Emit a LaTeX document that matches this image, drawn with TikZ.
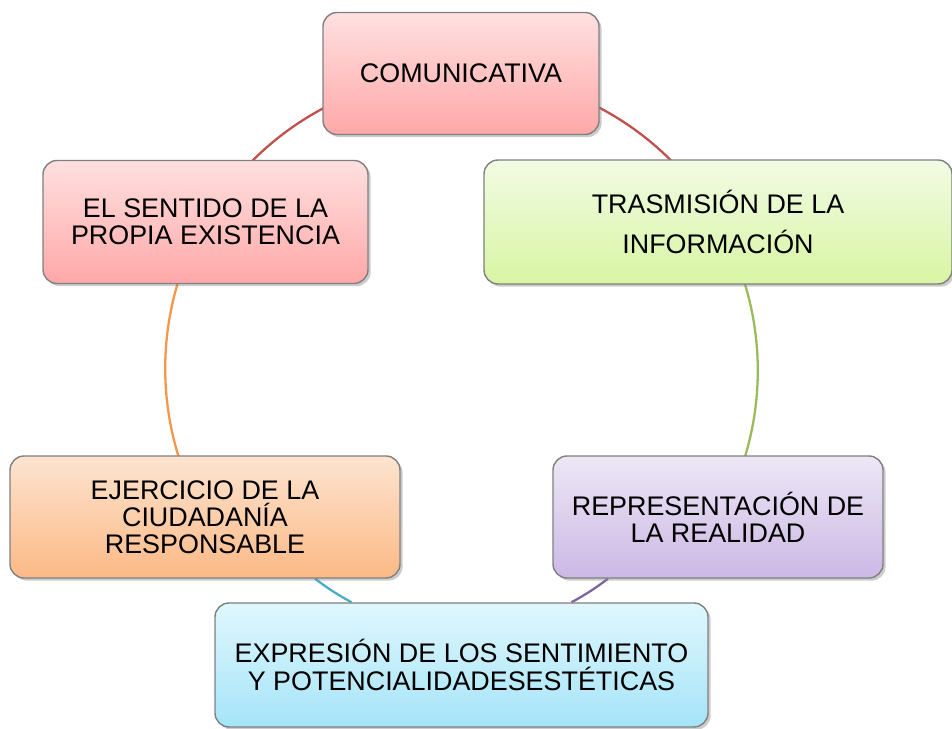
\documentclass[tikz,border=0pt]{standalone}
\usepackage{fontspec}
\setmainfont{Liberation Sans}
\usetikzlibrary{calc,shadows}
\definecolor{rojoA}{HTML}{FFE0E0}
\definecolor{rojoB}{HTML}{FFA8A8}
\definecolor{verdeA}{HTML}{F2FBE4}
\definecolor{verdeB}{HTML}{D8F5A3}
\definecolor{moradoA}{HTML}{EDE7F5}
\definecolor{moradoB}{HTML}{CCB8E5}
\definecolor{celesteA}{HTML}{E0F7FD}
\definecolor{celesteB}{HTML}{A5E4F8}
\definecolor{naranjaA}{HTML}{FDE4D0}
\definecolor{naranjaB}{HTML}{FBB985}
\definecolor{lrojo}{HTML}{C0504D}
\definecolor{lverde}{HTML}{9BBB59}
\definecolor{lmorado}{HTML}{8064A2}
\definecolor{lceleste}{HTML}{4BACC6}
\definecolor{lnaranja}{HTML}{F79646}
\pgfdeclarelayer{fondo}
\pgfsetlayers{fondo,main}

\begin{document}
\begin{tikzpicture}[
		caja/.style={draw=black!50, line width=0.8pt, rounded corners=8pt, align=center, inner sep=0pt,
			font=\fontsize{15.3}{15.4}\selectfont,
			drop shadow={shadow xshift=1.5pt, shadow yshift=-1.5pt, opacity=0.4}},
		enlace/.style={line width=1.3pt}
	]
		\newcommand{\R}{5.94} %radio del ciclo
		\useasboundingbox (0,0) rectangle (19.04,14.58);
		\node[caja, top color=rojoA, bottom color=rojoB, minimum width=5.52cm, minimum height=2.44cm] (comu) at (9.22,13.11) {COMUNICATIVA};
		\node[caja, top color=verdeA, bottom color=verdeB, minimum width=9.36cm, minimum height=2.48cm,
			font=\fontsize{15.3}{22.8}\selectfont] (tras) at (14.36,10.14) {TRASMISIÓN DE LA\\INFORMACIÓN};
		\node[caja, top color=moradoA, bottom color=moradoB, minimum width=6.6cm, minimum height=2.44cm] (repr) at (14.36,4.24) {REPRESENTACIÓN DE\\LA REALIDAD};
		\node[caja, top color=celesteA, bottom color=celesteB, minimum width=9.86cm, minimum height=2.48cm] (expr) at (9.23,1.28) {EXPRESIÓN DE LOS SENTIMIENTO\\Y POTENCIALIDADESESTÉTICAS};
		\node[caja, top color=naranjaA, bottom color=naranjaB, minimum width=7.8cm, minimum height=2.44cm] (ejer) at (4.1,4.24) {EJERCICIO DE LA\\CIUDADANÍA\\RESPONSABLE};
		\node[caja, top color=rojoA, bottom color=rojoB, minimum width=6.5cm, minimum height=2.46cm] (sent) at (4.11,10.14) {EL SENTIDO DE LA\\PROPIA EXISTENCIA};
		\begin{pgfonlayer}{fondo}
			\foreach \a/\c/\ang in {comu/lrojo/90, tras/lverde/30, ejer/lnaranja/210, sent/lrojo/150}{ %arcos del ciclo
				\draw[enlace, \c] (\a.center) arc[start angle=\ang, end angle=\ang-60, radius=\R];
			}
			\draw[enlace, lmorado] ($(repr.south)+(-2.2,0)$) to[bend left=4] ($(expr.north)+(2.2,0)$);
			\draw[enlace, lceleste] ($(expr.north)+(-2.2,0)$) to[bend left=4] ($(ejer.south)+(2.2,0)$);
		\end{pgfonlayer}
	\end{tikzpicture}
\end{document}
